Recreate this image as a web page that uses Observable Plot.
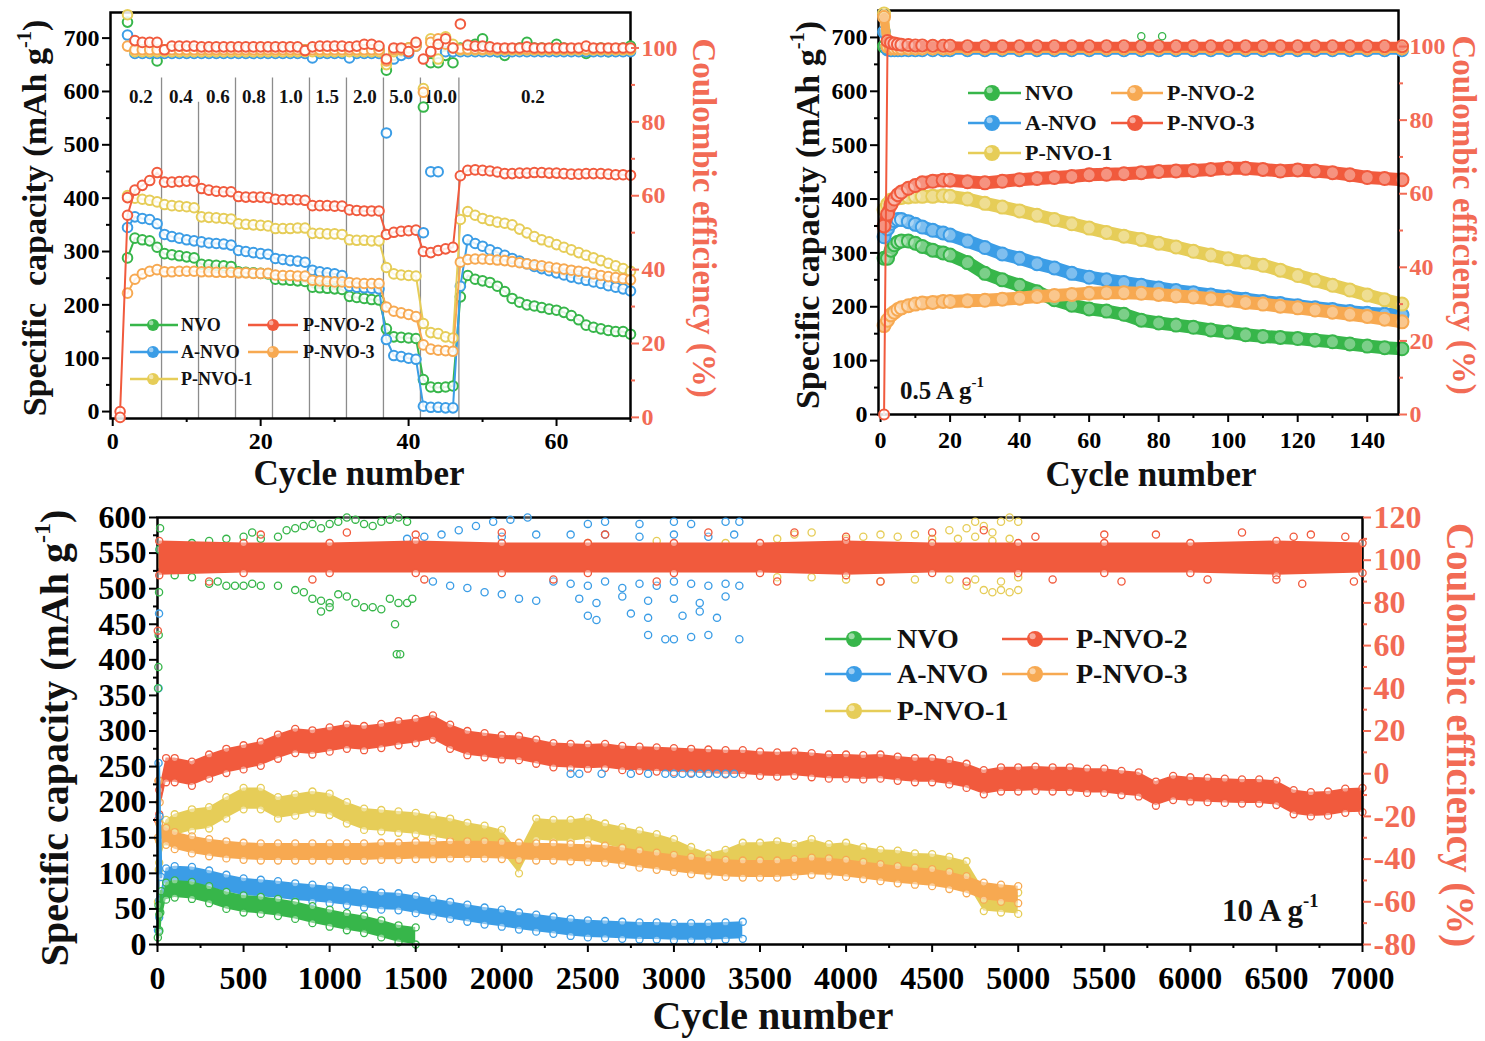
<!DOCTYPE html>
<html><head><meta charset="utf-8">
<script src="https://cdn.jsdelivr.net/npm/d3@7"></script>
<script src="https://cdn.jsdelivr.net/npm/@observablehq/plot@0.6"></script>
<style>
body{margin:0;background:#fff;}
#fig{position:relative;width:1485px;height:1041px;overflow:hidden;font-family:"Liberation Serif","Times New Roman",serif;font-weight:bold;color:#111;}
.lab{position:absolute;white-space:nowrap;font-weight:bold;line-height:1;}
.lab sup{font-size:0.6em;vertical-align:0.75em;line-height:0;}
</style></head><body><div id="fig"></div>
<script>
// ---------------- DATA ----------------
const seriesNames = ["NVO", "A-NVO", "P-NVO-1", "P-NVO-2", "P-NVO-3"];

// Panel (a): rate test, capacity for cycles 2..70 (red from cycle 1), CE for cycles 1..70 (red) / 2..70 (others)
const rateCapNVO = [288,325,322,320,308, 296,294,292,290,288, 276,275,274,273,272, 262,261,260,259,258, 248,247,246,245,244, 233,232,231,230,229, 216,214,212,210,209, 155,140,139,138,137, 60,46,45,46,48, 215,255,248,245, 242,235,225,212,205,200,198,195,192,190, 186,180,172,162,158,155,152,150,150,145];
const rateCapANVO = [345,365,362,360,352, 332,328,325,322,320, 318,316,315,314,312, 302,300,298,296,295, 287,285,283,282,280, 265,262,260,258,255, 235,233,232,231,230, 135,105,103,100,98, 10,8,8,7,7, 235,322,315,310, 303,298,293,287,282,277,272,268,264,260, 256,252,249,246,243,240,236,233,230,226];
const rateCapP1 = [405,400,398,396,393, 388,386,385,384,382, 365,364,363,362,361, 352,351,350,349,348, 343,343,343,344,344, 334,334,333,333,332, 322,321,321,320,320, 270,258,256,255,254, 165,148,146,140,138, 360,375,368,362, 358,355,353,350,342,335,328,322,318,313, 308,303,298,293,288,283,278,273,268,263];
const rateCapP2 = [0, 368,415,424,433,448, 430,430,431,432,432, 418,415,413,412,412, 403,402,402,402,401, 398,397,397,397,396, 386,386,386,385,385, 378,377,376,376,376, 332,336,338,339,340, 300,298,302,305,308, 442,452,453,452, 451,449,446,446,447,447,448,448,447,447, 446,445,445,446,446,446,445,444,444,443];
const rateCapP3 = [222,248,258,263,266, 262,262,263,263,263, 262,262,261,261,261, 260,260,259,259,259, 256,255,255,254,254, 246,245,244,243,243, 242,241,240,240,240, 196,188,185,182,178, 125,117,115,114,113, 280,285,286,286, 285,284,283,281,279,277,275,273,271,269, 267,265,263,261,258,255,253,251,249,247];

const rateCE_P2 = [0,59.5,102,101.5,101.5,101.5,99.5,100.5,100.5,100.5, 100.5,100.3,100.3,100.3,100.3,100.3,100.3,100.3,100.3,100.3, 100.3,100.3,100.3,100.3,100.3,99.3,100.3,100.5,100.5,100.5, 100.5,100.3,100.5,101,101,100.5,97,100,100,99, 101.5,97,99,101,102.5,100,106.5,100.8,100.5,100.5, 100.3,100,100,100,100,100.3,100,100,100,100, 100,100,100,100.5,100,100,100,100,100,100];
const rateCE_NVO = [107,99.5,99.5,99,96.5, 99.5,99.5,99.5,99.5,99.5, 99.5,99.5,99.5,99.5,99.5, 99.5,99.5,99.5,99.5,99.5, 99.5,99.5,99.5,99.5,99.5, 99.5,99.5,99.5,99.5,99.5, 99.5,99.5,99.5,99.5,99.5, 94,98,99,100,101, 84,96,96,98,96, 100,100.5,101,102.5, 100,99,98,99.5,100,101.5,100,100,99.5,101, 100,99.5,99.5,98.5,99.5,100,99,99.5,100,100.5];
const rateCE_ANVO = [103.5,98.5,98.5,98.5,98.5, 98.5,98.5,98.5,98.5,98.5, 98.5,98.5,98.5,98.5,98.5, 98.5,98.5,98.5,98.5,98.5, 98.5,98.5,98.5,98.5,98.5, 97.3,98.5,98.5,98.5,98.5, 97.3,98.5,98.5,98.5,98.5, 77,97,98,98.5,100.5, 50,66.5,66.5,99,99, 99,99,99,99, 99,99,99,99,99,99,99,99,99,99, 99,99,99,99,99,99,99,99,99,99];
const rateCE_P1 = [109,99,99,99,99, 99,99,99,99,99, 99,99,99,99,99, 99,99,99,99,99, 99,99,99,99,99, 99,99,99,99,99, 99,99,99,99,99, 95.5,99,99.5,100,101, 89,102.5,97,103,101, 99.5,99.5,99.5,99.5, 99.5,99.5,99.5,99.5,99.5,99.5,99.5,99.5,99.5,99.5, 99.5,99.5,99.5,99.5,99.5,99.5,99.5,99.5,99.5,99.5];
const rateCE_P3 = [100.5,99.5,99.5,99.5,99.5, 99.5,99.5,99.5,99.5,99.5, 99.5,99.5,99.5,99.5,99.5, 99.5,99.5,99.5,99.5,99.5, 99.5,99.5,99.5,99.5,99.5, 99.5,99.5,99.5,99.5,99.5, 99.5,99.5,99.5,99.5,99.5, 96.5,99.5,99.5,100,100.5, 88,101.5,102.5,101,100, 99.7,99.7,99.7,99.7, 99.7,99.7,99.7,99.7,99.7,99.7,99.7,99.7,99.7,99.7, 99.7,99.7,99.7,99.7,99.7,99.7,99.7,99.7,99.7,99.7];

const rateBounds = [6.6, 11.6, 16.6, 21.6, 26.6, 31.6, 36.6, 41.6, 46.8];
const rateLineTop = [625, 580, 625, 625, 625, 625, 625, 625, 625];
const rateLabels = ["0.2","0.4","0.6","0.8","1.0","1.5","2.0","5.0","10.0","0.2"];
const rateLabelX = [3.8, 9.2, 14.2, 19.1, 24.1, 29.0, 34.1, 39.0, 44.3, 56.8];

// Panel (b): 0.5 A/g
const trCycles = [1,2,3,4,5,6,8,10,12,15,18,20,25,30,35,40,45,50,55,60,65,70,75,80,85,90,95,100,105,110,115,120,125,130,135,140,145,150];
const trNVO  = [290,290,305,315,320,322,322,318,312,305,300,296,282,262,250,240,228,213,203,196,192,186,175,170,166,162,157,153,148,145,143,141,138,135,131,127,124,122];
const trANVO = [330,345,355,360,362,362,358,353,348,342,337,333,322,310,298,290,280,272,262,255,250,245,240,235,230,226,222,218,214,210,206,202,198,195,191,188,186,185];
const trP1   = [380,390,398,400,402,403,404,405,405,405,406,405,400,392,385,378,370,362,354,346,338,331,325,318,311,303,296,289,283,277,268,258,249,240,231,222,213,205];
const trP2   = [165,175,185,190,195,198,202,205,207,208,210,210,211,212,214,216,219,221,223,225,226,226,225,223,220,218,215,212,208,205,201,198,194,190,186,182,177,172];
const trP3   = [350,372,390,400,408,413,420,425,430,433,435,435,432,430,433,436,438,440,442,445,446,447,449,451,452,453,455,457,457,455,452,454,452,449,445,440,438,436];
const trCE_NVO  = [100,99.5,99.5,99.5,99.5,99.5,99.5,99.5,99.5,99.5,99.5,99.5,99.5,99.5,99.5,99.5,99.5,99.5,99.5,99.5,99.5,99.5,99.5,99.5,99.5,99.5,99.5,99.5,99.5,99.5,99.5,99.5,99.5,99.5,99.5,99.5,99.5,99.5];
const trCE_ANVO = [104,99.2,99,99,99,99,99,99,99,99,99,99,99,99,99,99,99,99,99,99,99,99,99,99,99,99,99,99,99,99,99,99,99,99,99,99,99,99];
const trCE_P1   = [109,100,99.5,99.5,99.5,99.5,99.5,99.5,99.5,99.5,99.5,99.5,99.5,99.5,99.5,99.5,99.5,99.5,99.5,99.5,99.5,99.5,99.5,99.5,99.5,99.5,99.5,99.5,99.5,99.5,99.5,99.5,99.5,99.5,99.5,99.5,99.5,99.5];
const trCE_P2   = [108,100,99.5,99.5,99.5,99.5,99.5,99.5,99.5,99.5,99.5,99.5,99.5,99.5,99.5,99.5,99.5,99.5,99.5,99.5,99.5,99.5,99.5,99.5,99.5,99.5,99.5,99.5,99.5,99.5,99.5,99.5,99.5,99.5,99.5,99.5,99.5,99.5];
const trCE_P3   = [0,101.5,101,100.8,100.6,100.5,100.4,100.3,100.3,100.2,100.2,100.2,100.1,100.1,100.1,100.1,100.1,100.1,100.1,100.1,100.1,100.1,100.1,100.1,100.1,100.1,100.1,100.1,100.1,100.1,100.1,100.1,100.1,100.1,100.1,100.1,100.1,100.1];
const trCE_NVO_out = [[75,102.8],[81,102.8]];

// Panel (c): 10 A/g long cycling (band centre and half-spread)
const longCycles = [10,50,100,200,300,400,500,600,700,800,900,1000,1100,1200,1300,1400,1500,1600,1700,1800,1900,2000,2100,2200,2300,2400,2500,2600,2700,2800,2900,3000,3100,3200,3300,3400,3500,3600,3700,3800,3900,4000,4100,4200,4300,4400,4500,4600,4700,4800,4900,5000,5100,5200,5300,5400,5500,5600,5700,5800,5900,6000,6100,6200,6300,6400,6500,6600,6700,6800,6900,7000];
const longNVO  = [30,75,78,76,70,62,57,55,52,48,42,37,32,28,22,15,12];
const longANVO = [50,95,98,97,92,86,81,79,77,74,72,70,67,64,61,60,56,52,48,44,40,37,33,30,27,24,22,21,20,19,19,18,18,18,19,20];
const longP1   = [130,160,168,175,178,192,205,205,192,196,200,197,185,176,174,172,170,166,162,156,152,146,115,162,160,160,163,155,150,145,140,133,122,113,118,128,128,130,126,133,126,128,122,118,117,113,112,108,102,62,60,58];
const longP2   = [200,245,245,240,250,258,263,268,278,286,284,288,292,290,293,297,300,305,292,283,280,277,276,271,266,265,264,265,262,261,260,259,258,257,256,256,254,253,254,252,250,250,249,250,247,245,245,242,237,228,232,232,233,232,232,230,230,227,225,212,220,218,217,216,215,215,213,200,197,198,202,203];
const longP3   = [158,152,146,140,136,133,131,130,130,130,130,130,130,130,131,131,132,132,133,133,133,132,131,130,130,129,128,127,124,120,117,114,111,109,107,106,106,106,108,110,109,107,104,101,98,96,94,90,84,75,72,70];
const longSpread = {NVO: 12, ANVO: 12, P1: 15, P2: 17, P3: 12};
const earlyCap = {
  NVO:  [[2,10],[6,55],[10,20],[16,45],[22,75]],
  ANVO: [[3,20],[6,255],[12,180],[20,95]],
  P1:   [[3,60],[8,105],[16,140]],
  P2:   [[3,175],[8,230]],
  P3:   [[3,150],[6,230],[12,200]]
};
const ceLongCycles = [10,500,1000,1500,2000,2500,3000,3500,4000,4500,5000,5500,6000,6500,7000];
const ceP2Lo = [93,94,94,94,94,94,94,94,93,94,94,94,94,93,94];
const ceP2Hi = [109,108,108,109,108,108,108,108,109,108,108,108,108,109,108];
const ceP1Lo = [96,96,96,96,96,96,96,96,96,96,96];
const ceP1Hi = [106,106,106,106,106,106,106,106,106,106,106];
const ceP2Out = [[2,67],[300,90],[600,112],[900,91],[1100,113],[1500,112],[1550,91],[2000,113],[2300,91],[2600,112],[2900,90],[3200,113],[3600,90],[3700,113],[4000,111],[4200,90],[4500,113],[4700,90],[4800,114],[5100,111],[5200,91],[5500,112],[5600,90],[5800,112],[6100,91],[6300,113],[6500,91],[6600,111],[6650,89],[6700,112],[6900,111],[6950,90]];
const ceP1Out = [[2500,108],[2900,109],[3300,108],[3600,110],[3700,112],[3800,113],[3900,107],[4000,110],[4100,111],[4200,112],[4300,111],[4400,112],[4500,110],[4600,114],[4700,115],[4750,118],[4800,116],[4850,113],[4900,118],[4950,120],[5000,118],[4650,110],[4750,111],[4850,109],[4950,110],[3600,92],[3800,92],[4000,91],[4200,90],[4400,91],[4600,91],[4700,88],[4800,86],[4850,85],[4900,86],[4950,85],[5000,86],[4750,91],[4900,90],[5000,92]];
const ceANVOOut = [[6,40],[9,75],[12,105],[1450,110],[1550,111],[1650,112],[1750,114],[1850,116],[1950,118],[2050,119],[2150,120],[2000,111],[2200,112],[2400,112],[2600,112],[2800,111],[3000,112],[3200,111],[3350,112],[2500,117],[2600,118],[2800,117],[3000,118],[3100,117],[3300,118],[3380,118],[1600,90],[1700,88],[1800,87],[1900,85],[2000,84],[2100,82],[2200,81],[2300,90],[2400,89],[2500,88],[2600,90],[2700,87],[2800,89],[2900,88],[3000,90],[3100,89],[3200,88],[3300,89],[3380,88],[2450,82],[2550,80],[2700,83],[2850,81],[3000,82],[3150,80],[3300,83],[2500,74],[2550,72],[2750,75],[2850,73],[3050,74],[3150,76],[3250,73],[2850,65],[2950,63],[3000,63],[3100,64],[3200,65],[3380,63],[2400,0],[2450,0],[2580,0],[2750,0],[2850,0],[2950,0],[3000,0],[3050,0],[3100,0],[3150,0],[3200,0],[3250,0],[3300,0],[3350,0]];
const ceNVOOut = [[3,40],[5,50],[7,65],[9,85],[12,105],[15,115],[100,107],[200,108],[300,109],[400,110],[500,111],[550,113],[600,110],[700,111],[750,114],[800,115],[850,116],[900,117],[950,115],[1000,117],[1050,118],[1100,120],[1150,119],[1200,117],[1250,116],[1300,118],[1350,119],[1400,120],[1450,118],[100,93],[200,92],[300,89],[350,90],[400,88],[450,88],[500,88],[550,89],[600,88],[700,88],[800,86],[850,85],[900,82],[950,81],[1000,80],[1050,84],[1100,83],[1150,80],[1200,78],[1250,78],[1300,77],[1350,82],[1400,80],[1450,80],[1480,82],[1380,70],[1390,56],[1410,56],[1000,78],[950,76]];

// axis ticks
const aXTicks = [0,20,40,60], aXMinor = [10,30,50,70];
const capTicks = [0,100,200,300,400,500,600,700], capMinor = [50,150,250,350,450,550,650];
const ceTicks = [0,20,40,60,80,100], ceMinor = [10,30,50,70,90];
const bXTicks = [0,20,40,60,80,100,120,140], bXMinor = [10,30,50,70,90,110,130];
const cXTicks = [0,500,1000,1500,2000,2500,3000,3500,4000,4500,5000,5500,6000,6500,7000];
const cXMinor = [250,750,1250,1750,2250,2750,3250,3750,4250,4750,5250,5750,6250,6750];
const cYTicks = [0,50,100,150,200,250,300,350,400,450,500,550,600];
const cYMinor = [25,75,125,175,225,275,325,375,425,475,525,575];
const cCETicks = [-80,-60,-40,-20,0,20,40,60,80,100,120];
const cCEMinor = [-70,-50,-30,-10,10,30,50,70,90,110];

// ---------------- STYLE ----------------
const COL = {NVO:"#37b64a", ANVO:"#3b9de6", P1:"#e6cd58", RED:"#f15a3d", ORANGE:"#f7a951"};
const CE_COL = "#f26b55";
const FONT = "'Liberation Serif','Times New Roman',serif";
const fig = document.getElementById("fig");

const rowsOf = (xs, ys) => ys.map((v, i) => ({x: xs[i], y: v}));
const pairs = (p) => p.map(([x, y]) => ({x, y}));
const range = (a, b) => { const r = []; for (let i = a; i <= b; i++) r.push(i); return r; };

function mkPlot(o, marks) {
  const svg = Plot.plot({
    width: o.w, height: o.h, marginLeft: o.ml, marginRight: o.mr, marginTop: o.mt, marginBottom: o.mb,
    x: {domain: o.xd, axis: null}, y: {domain: o.yd, axis: null},
    style: {fontFamily: FONT, fontWeight: "bold", background: "transparent", overflow: "visible", color: "#000"},
    marks
  });
  svg.style.position = "absolute";
  svg.style.left = o.left + "px";
  svg.style.top = o.top + "px";
  fig.appendChild(svg);
}
const fmt = d => String(d);
function leftAxes(o) {
  return [
    Plot.frame({stroke: "#000", strokeWidth: 2.5}),
    Plot.axisX(o.xt, {tickSize: 8, strokeWidth: 2, fontSize: o.fs, tickFormat: fmt, tickPadding: o.xpad, label: null}),
    Plot.axisX(o.xm, {tickSize: 4, strokeWidth: 2, tickFormat: () => "", label: null}),
    Plot.axisY(o.yt, {tickSize: 8, strokeWidth: 2, fontSize: o.fs, tickFormat: fmt, tickPadding: 3, label: null}),
    Plot.axisY(o.ym, {tickSize: 4, strokeWidth: 2, tickFormat: () => "", label: null})
  ];
}
function rightAxes(o) {
  return [
    Plot.axisY(o.y2t, {anchor: "right", tickSize: 8, strokeWidth: 2, color: CE_COL, fontSize: o.fs, tickFormat: fmt, tickPadding: 3, label: null}),
    Plot.axisY(o.y2m, {anchor: "right", tickSize: 4, strokeWidth: 2, color: CE_COL, tickFormat: () => "", label: null})
  ];
}
function lineDots(data, color, r, sw, lw) {
  return [
    Plot.line(data, {x: "x", y: "y", stroke: color, strokeWidth: lw}),
    Plot.dot(data, {x: "x", y: "y", r, stroke: color, strokeWidth: sw, fill: "white", fillOpacity: 0.85})
  ];
}
function dotsOnly(data, color, r, sw) {
  return Plot.dot(data, {x: "x", y: "y", r, stroke: color, strokeWidth: sw, fill: "white", fillOpacity: 0.85});
}
function thick(data, color, r, lw) {
  return [
    Plot.line(data, {x: "x", y: "y", stroke: color, strokeWidth: lw, strokeLinejoin: "round", strokeLinecap: "round"}),
    Plot.dot(data, {x: "x", y: "y", r, stroke: color, strokeWidth: 2, fill: "white", fillOpacity: 0.35})
  ];
}
function band(data, color, s) {
  return [
    Plot.areaY(data, {x: "x", y1: d => d.y - s, y2: d => d.y + s, fill: color}),
    Plot.dot(data, {x: "x", y: d => d.y + s, r: 3.5, stroke: color, strokeWidth: 1.3, fill: "white", fillOpacity: 0.4}),
    Plot.dot(data, {x: "x", y: d => d.y - s, r: 3.5, stroke: color, strokeWidth: 1.3, fill: "white", fillOpacity: 0.4})
  ];
}
function scatter(data, color) {
  return Plot.dot(data, {x: "x", y: "y", r: 3.6, stroke: color, strokeWidth: 1.3, fill: "white", fillOpacity: 0.3});
}
function label(html, cx, cy, size, rot, color) {
  const d = document.createElement("div");
  d.className = "lab";
  d.innerHTML = html;
  d.style.left = cx + "px"; d.style.top = cy + "px"; d.style.fontSize = size + "px";
  d.style.color = color || "#111";
  d.style.transform = `translate(-50%,-50%) rotate(${rot}deg)`;
  fig.appendChild(d);
}
function textAt(html, x, cy, size) {
  const d = document.createElement("div");
  d.className = "lab";
  d.innerHTML = html;
  d.style.left = x + "px"; d.style.top = cy + "px"; d.style.fontSize = size + "px";
  d.style.transform = "translateY(-50%)";
  fig.appendChild(d);
}
function legendItem(name, color, x1, x2, cx, tx, y, size, r) {
  const h = 2 * r + 4, w = x2 - x1;
  const d = document.createElement("div");
  d.style.cssText = `position:absolute;left:${x1}px;top:${y - h / 2}px;width:${w}px;height:${h}px`;
  d.innerHTML = `<svg width="${w}" height="${h}" style="display:block"><line x1="0" x2="${w}" y1="${h/2}" y2="${h/2}" stroke="${color}" stroke-width="2.5"/><circle cx="${cx - x1}" cy="${h/2}" r="${r}" fill="${color}"/><circle cx="${cx - x1 - r*0.3}" cy="${h/2 - r*0.35}" r="${r*0.38}" fill="#fff" opacity="0.5"/></svg>`;
  fig.appendChild(d);
  textAt(name, tx, y, size);
}

// ---------------- PANEL A ----------------
{
  const o = {left: 0, top: 0, w: 740, h: 490, ml: 110, mr: 110, mt: 12, mb: 72, xd: [-0.3, 70], yd: [-13, 748], fs: 24, xpad: 5,
             xt: aXTicks, xm: aXMinor, yt: capTicks, ym: capMinor, y2t: ceTicks, y2m: ceMinor};
  const cyc = range(2, 70);
  const caps = [[cyc, rateCapNVO, COL.NVO], [cyc, rateCapANVO, COL.ANVO], [cyc, rateCapP1, COL.P1], [cyc, rateCapP3, COL.ORANGE], [range(1, 70), rateCapP2, COL.RED]];
  const bounds = rateBounds.map((b, i) => ({x: b, top: rateLineTop[i]}));
  const labs = rateLabels.map((t, i) => ({x: rateLabelX[i], t}));
  mkPlot(o, [
    Plot.ruleX(bounds, {x: "x", y1: -13, y2: "top", stroke: "#8c8c8c", strokeWidth: 1.3}),
    Plot.text(labs, {x: "x", y: 589, text: "t", fontSize: 19, fontWeight: "bold", fill: "#111"}),
    ...caps.flatMap(([x, v, c]) => lineDots(rowsOf(x, v), c, 4.8, 2, 2)),
    ...leftAxes(o)
  ]);
  const o2 = {...o, yd: [-0.3, 109.6]};
  const ces = [[range(2,70), rateCE_NVO, COL.NVO], [range(2,70), rateCE_ANVO, COL.ANVO], [range(2,70), rateCE_P1, COL.P1], [range(2,70), rateCE_P3, COL.ORANGE], [range(1,70), rateCE_P2, COL.RED]];
  mkPlot(o2, [
    ...ces.map(([x, v, c]) => dotsOnly(rowsOf(x, v), c, 4.8, 2)),
    ...rightAxes(o2)
  ]);
  label("Specific&nbsp; capacity (mAh g<sup>-1</sup>)", 35, 218, 34, -90);
  label("Coulombic efficiency (%)", 703, 218, 33, 90, CE_COL);
  label("Cycle number", 359, 473, 35, 0);
  const L = [["NVO", COL.NVO, 130, 178, 153, 181, 325], ["A-NVO", COL.ANVO, 130, 178, 153, 181, 352], ["P-NVO-1", COL.P1, 130, 178, 153, 181, 379],
             ["P-NVO-2", COL.RED, 248, 298, 273, 303, 325], ["P-NVO-3", COL.ORANGE, 248, 298, 273, 303, 352]];
  L.forEach(a => legendItem(a[0], a[1], a[2], a[3], a[4], a[5], a[6], 18, 6));
}

// ---------------- PANEL B ----------------
{
  const o = {left: 740, top: 0, w: 745, h: 490, ml: 138, mr: 87, mt: 10, mb: 76, xd: [-0.6, 149], yd: [0, 750], fs: 24, xpad: 8,
             xt: bXTicks, xm: bXMinor, yt: capTicks, ym: capMinor, y2t: ceTicks, y2m: ceMinor};
  const caps = [[trNVO, COL.NVO], [trANVO, COL.ANVO], [trP1, COL.P1], [trP2, COL.ORANGE], [trP3, COL.RED]];
  mkPlot(o, [
    ...caps.flatMap(([v, c]) => thick(rowsOf(trCycles, v), c, 6.5, 13)),
    ...leftAxes(o)
  ]);
  const o2 = {...o, yd: [0, 109.8]};
  const ces = [[trCE_NVO, COL.NVO], [trCE_ANVO, COL.ANVO], [trCE_P1, COL.P1], [trCE_P2, COL.ORANGE]];
  const p3ce = rowsOf(trCycles, trCE_P3);
  mkPlot(o2, [
    ...ces.flatMap(([v, c]) => thick(rowsOf(trCycles, v), c, 6, 9)),
    Plot.line(p3ce.slice(0, 2), {x: "x", y: "y", stroke: COL.RED, strokeWidth: 2}),
    dotsOnly(p3ce.slice(0, 1), COL.RED, 5, 2),
    ...thick(p3ce.slice(1), COL.RED, 6, 9),
    scatter(pairs(trCE_NVO_out), COL.NVO),
    ...rightAxes(o2)
  ]);
  label("Specific capacity (mAh g<sup>-1</sup>)", 808, 215, 34, -90);
  label("Coulombic efficiency (%)", 1463, 215, 33, 90, CE_COL);
  label("Cycle number", 1151, 474, 35, 0);
  textAt("0.5 A g<sup>-1</sup>", 900, 390, 25);
  const L = [["NVO", COL.NVO, 968, 1021, 992, 1025, 93], ["A-NVO", COL.ANVO, 968, 1021, 992, 1025, 123], ["P-NVO-1", COL.P1, 968, 1021, 992, 1025, 153],
             ["P-NVO-2", COL.ORANGE, 1111, 1163, 1135, 1167, 93], ["P-NVO-3", COL.RED, 1111, 1163, 1135, 1167, 123]];
  L.forEach(a => legendItem(a[0], a[1], a[2], a[3], a[4], a[5], a[6], 22, 8));
}

// ---------------- PANEL C ----------------
{
  const o = {left: 0, top: 490, w: 1485, h: 551, ml: 157, mr: 123, mt: 27, mb: 97, xd: [0, 7000], yd: [0, 600], fs: 32, xpad: 14,
             xt: cXTicks, xm: cXMinor, yt: cYTicks, ym: cYMinor, y2t: cCETicks, y2m: cCEMinor};
  const series = [[longP2, COL.RED, longSpread.P2, earlyCap.P2], [longP1, COL.P1, longSpread.P1, earlyCap.P1], [longP3, COL.ORANGE, longSpread.P3, earlyCap.P3],
                  [longANVO, COL.ANVO, longSpread.ANVO, earlyCap.ANVO], [longNVO, COL.NVO, longSpread.NVO, earlyCap.NVO]];
  mkPlot(o, [
    ...series.flatMap(([v, c, s, e]) => [
      Plot.line(pairs(e), {x: "x", y: "y", stroke: c, strokeWidth: 3}),
      scatter(pairs(e), c),
      ...band(rowsOf(longCycles, v), c, s)
    ]),
    ...leftAxes(o)
  ]);
  const o2 = {...o, yd: [-80, 120]};
  const p1 = ceLongCycles.slice(0, ceP1Lo.length).map((x, i) => ({x, lo: ceP1Lo[i], hi: ceP1Hi[i]}));
  const p2 = ceLongCycles.map((x, i) => ({x, lo: ceP2Lo[i], hi: ceP2Hi[i]}));
  mkPlot(o2, [
    Plot.areaY(p1, {x: "x", y1: "lo", y2: "hi", fill: COL.P1}),
    scatter(pairs(ceP1Out), COL.P1),
    scatter(pairs(ceANVOOut), COL.ANVO),
    scatter(pairs(ceNVOOut), COL.NVO),
    Plot.areaY(p2, {x: "x", y1: "lo", y2: "hi", fill: COL.RED}),
    Plot.dot(p2, {x: "x", y: "lo", r: 3.6, stroke: COL.RED, strokeWidth: 1.3, fill: "white", fillOpacity: 0.4}),
    Plot.dot(p2, {x: "x", y: "hi", r: 3.6, stroke: COL.RED, strokeWidth: 1.3, fill: "white", fillOpacity: 0.4}),
    scatter(pairs(ceP2Out), COL.RED),
    ...rightAxes(o2)
  ]);
  label("Specific capacity (mAh g<sup>-1</sup>)", 55, 738, 40, -90);
  label("Coulombic efficiency (%)", 1460, 735, 39, 90, CE_COL);
  label("Cycle number", 773, 1016, 40, 0);
  textAt("10 A g<sup>-1</sup>", 1222, 910, 31);
  const L = [["NVO", COL.NVO, 825, 891, 854, 897, 639], ["A-NVO", COL.ANVO, 825, 891, 854, 897, 674], ["P-NVO-1", COL.P1, 825, 891, 854, 897, 711],
             ["P-NVO-2", COL.RED, 1002, 1068, 1035, 1076, 639], ["P-NVO-3", COL.ORANGE, 1002, 1068, 1035, 1076, 674]];
  L.forEach(a => legendItem(a[0], a[1], a[2], a[3], a[4], a[5], a[6], 28, 8));
}
</script></body></html>
